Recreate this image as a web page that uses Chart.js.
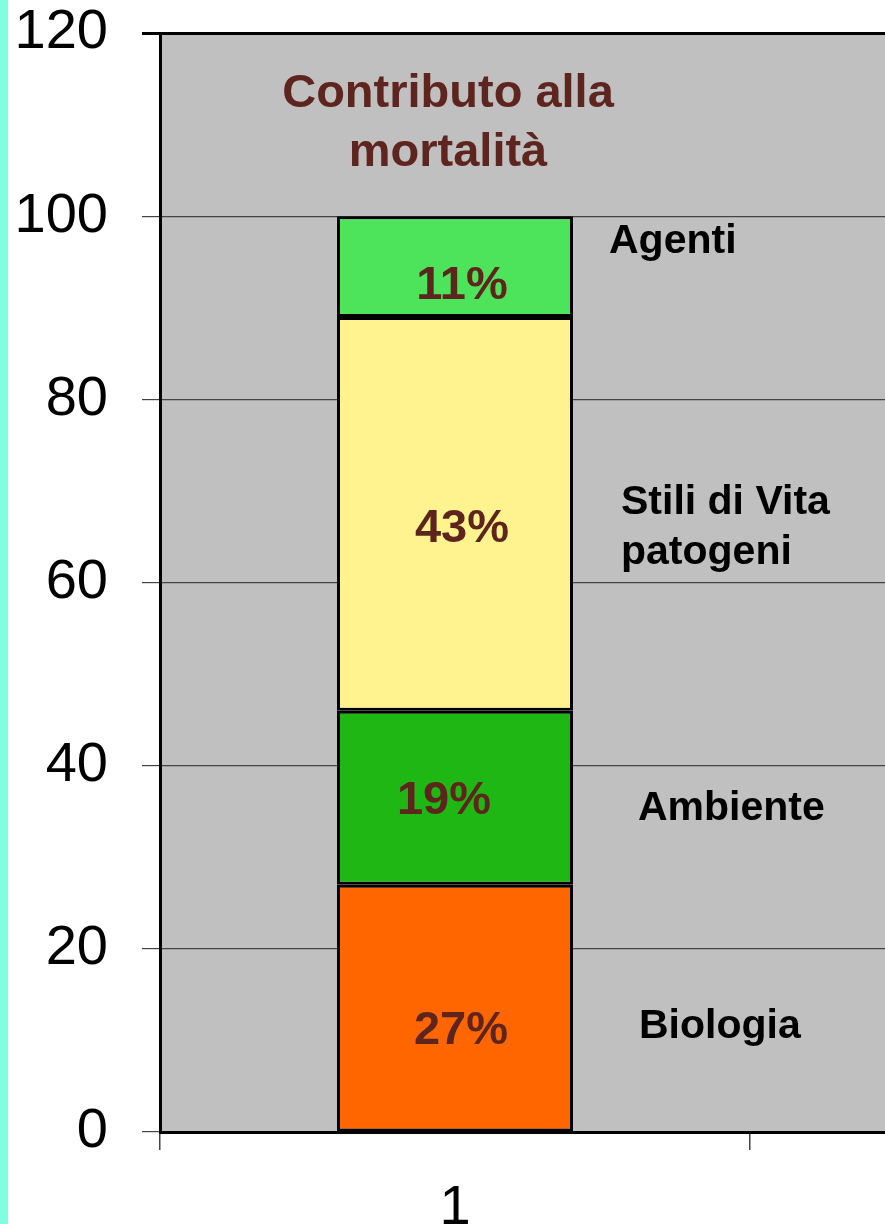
<!DOCTYPE html>
<html>
<head>
<meta charset="utf-8">
<script src="https://cdn.jsdelivr.net/npm/chart.js@4.4.1/dist/chart.umd.min.js"></script>
<style>
  html, body { margin: 0; padding: 0; background: #fff; overflow: hidden; }
  #wrap { position: relative; width: 885px; height: 1224px; overflow: hidden; }
  #stripe { position: absolute; left: 0; top: 0; width: 8px; height: 1224px; background: #80ffdf; z-index: 2; }
  canvas { position: absolute; left: 0; top: 0; }
</style>
</head>
<body>
<div id="wrap">
  <div id="stripe"></div>
  <canvas id="chart" width="1400" height="1224"></canvas>
</div>
<script>
// categories (second slot is off the visible picture)
const categories = ['1', ''];
const seriesNames = ['Biologia', 'Ambiente', 'Stili di Vita patogeni', 'Agenti'];
const seriesLabelLines = [['Biologia'], ['Ambiente'], ['Stili di Vita', 'patogeni'], ['Agenti']];
const seriesValues = [27, 19, 43, 11];
const seriesColors = ['#ff6600', '#1fb714', '#fff38f', '#4de35a'];
const yTicks = [0, 20, 40, 60, 80, 100, 120];
const titleLines = ['Contributo alla', 'mortalità'];

const BROWN = '#5e241e';
const FONT = '"Liberation Sans", Arial, sans-serif';

const plotBackground = {
  id: 'plotBackground',
  beforeDraw(chart) {
    const { ctx, chartArea: a } = chart;
    ctx.save();
    ctx.fillStyle = '#c0c0c0';
    ctx.fillRect(a.left, a.top, a.right - a.left, a.bottom - a.top);
    ctx.restore();
  }
};

const barText = {
  id: 'barText',
  afterDatasetsDraw(chart) {
    const { ctx, chartArea: a } = chart;
    ctx.save();
    ctx.textBaseline = 'middle';
    // nudges of the labels away from the segment middle
    const labelDx = [6, -11, 7, 7];
    const labelDy = [23, 3, 15, 20];
    const sideDx = [66, 65, 48, 36];
    const sideDy = [19, 11, 14, -25];
    chart.data.datasets.forEach((ds, i) => {
      const bar = chart.getDatasetMeta(i).data[0];
      const mid = (bar.y + bar.base) / 2;
      ctx.fillStyle = BROWN;
      ctx.font = 'bold 47px ' + FONT;
      ctx.textAlign = 'center';
      ctx.fillText(Math.round(ds.data[0]) + '%', bar.x + labelDx[i], mid + labelDy[i]);
      ctx.fillStyle = '#000';
      ctx.font = 'bold 41px ' + FONT;
      ctx.textAlign = 'left';
      const lines = seriesLabelLines[i];
      const lh = 50;
      lines.forEach((t, k) => {
        ctx.fillText(t, bar.x + bar.width / 2 + sideDx[i], mid + sideDy[i] + (k - (lines.length - 1) / 2) * lh);
      });
    });
    // title
    const bar0 = chart.getDatasetMeta(0).data[0];
    ctx.fillStyle = BROWN;
    ctx.font = 'bold 47px ' + FONT;
    ctx.textAlign = 'center';
    titleLines.forEach((t, k) => {
      ctx.fillText(t, bar0.x - 7, a.top + 61 + k * 59);
    });
    ctx.restore();
  }
};

new Chart(document.getElementById('chart'), {
  type: 'bar',
  data: {
    labels: categories,
    datasets: seriesNames.map((name, i) => ({
      label: name,
      data: [seriesValues[i], null],
      backgroundColor: seriesColors[i],
      borderColor: '#000',
      borderWidth: 3,
      borderSkipped: false,
      barPercentage: 0.4,
      categoryPercentage: 1
    }))
  },
  options: {
    responsive: false,
    animation: false,
    layout: { autoPadding: false, padding: { top: 33, right: 60, left: 0, bottom: 0 } },
    plugins: { legend: { display: false }, tooltip: { enabled: false }, title: { display: false } },
    scales: {
      x: {
        stacked: true,
        afterFit: s => { s.height = 92; s.paddingLeft = 0; s.paddingRight = 0; },
        grid: { offset: true, drawOnChartArea: false, tickLength: 18, color: '#444', lineWidth: 1.5 },
        border: { color: '#000', width: 3 },
        ticks: { color: '#000', font: { family: FONT, size: 56 }, padding: 25, maxRotation: 0 }
      },
      y: {
        stacked: true,
        min: 0,
        max: 120,
        afterFit: s => { s.width = 160; s.paddingTop = 0; s.paddingBottom = 0; },
        afterBuildTicks: s => { s.ticks = yTicks.map(v => ({ value: v })); },
        grid: {
          tickLength: 18,
          color: c => (c.tick && c.tick.value === 120 ? '#000' : '#444'),
          lineWidth: c => (c.tick && c.tick.value === 120 ? 3 : 1.2)
        },
        border: { color: '#000', width: 3 },
        ticks: { color: '#000', font: { family: FONT, size: 56 }, padding: 34 }
      }
    }
  },
  plugins: [plotBackground, barText]
});
</script>
</body>
</html>
